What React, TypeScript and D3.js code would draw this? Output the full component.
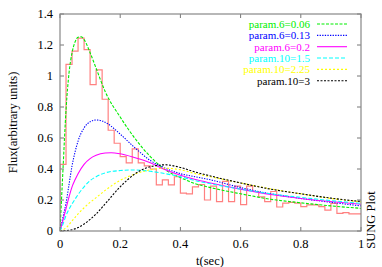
import React from "react";
import * as d3 from "d3";

const W = 382, H = 267;
const M = { left: 60, right: 361, top: 14, bottom: 231 };

const binWidth = 0.02;
const histValues = [
  0.43, 1.075, 1.16, 1.245, 1.17, 0.945, 1.04, 0.85, 0.65, 0.566,
  0.48, 0.44, 0.53, 0.44, 0.42, 0.4, 0.297, 0.33, 0.297, 0.35,
  0.245, 0.24, 0.285, 0.3, 0.2, 0.29, 0.19, 0.32, 0.19, 0.29,
  0.17, 0.29, 0.255, 0.22, 0.19, 0.255, 0.155, 0.18, 0.185, 0.18,
  0.157, 0.168, 0.168, 0.157, 0.135, 0.178, 0.114, 0.118, 0.11, 0.11,
];

const tGreen = [0, 0.01, 0.02, 0.03, 0.04, 0.05, 0.06, 0.07, 0.08, 0.1, 0.12, 0.15, 0.2, 0.25, 0.3, 0.35, 0.4, 0.45, 0.5, 0.6, 0.7, 0.8, 0.9, 1.0];
const vGreen = [0, 0.4, 0.78, 1.02, 1.15, 1.22, 1.25, 1.253, 1.235, 1.15, 1.05, 0.9, 0.735, 0.595, 0.48, 0.395, 0.345, 0.305, 0.28, 0.24, 0.205, 0.182, 0.162, 0.146];

const tBlue = [0, 0.01, 0.02, 0.03, 0.04, 0.05, 0.06, 0.08, 0.1, 0.12, 0.14, 0.16, 0.2, 0.25, 0.3, 0.35, 0.4, 0.45, 0.5, 0.6, 0.7, 0.8, 0.9, 1.0];
const vBlue = [0, 0.09, 0.18, 0.3, 0.42, 0.51, 0.58, 0.665, 0.705, 0.716, 0.71, 0.69, 0.625, 0.535, 0.455, 0.405, 0.37, 0.35, 0.33, 0.28, 0.24, 0.21, 0.185, 0.162];

const tMagenta = [0, 0.01, 0.02, 0.03, 0.04, 0.05, 0.06, 0.08, 0.1, 0.12, 0.15, 0.17, 0.2, 0.25, 0.3, 0.35, 0.4, 0.45, 0.5, 0.6, 0.7, 0.8, 0.9, 1.0];
const vMagenta = [0, 0.07, 0.145, 0.22, 0.285, 0.33, 0.37, 0.43, 0.467, 0.488, 0.503, 0.505, 0.498, 0.472, 0.44, 0.395, 0.36, 0.332, 0.31, 0.27, 0.235, 0.21, 0.19, 0.173];

const tCyan = [0, 0.01, 0.02, 0.03, 0.04, 0.05, 0.06, 0.08, 0.1, 0.12, 0.15, 0.2, 0.25, 0.3, 0.35, 0.4, 0.45, 0.5, 0.6, 0.7, 0.8, 0.9, 1.0];
const vCyan = [0, 0.045, 0.1, 0.14, 0.175, 0.205, 0.235, 0.285, 0.325, 0.35, 0.375, 0.39, 0.394, 0.385, 0.37, 0.35, 0.325, 0.305, 0.27, 0.24, 0.217, 0.196, 0.178];

const tYellow = [0, 0.02, 0.04, 0.06, 0.08, 0.1, 0.12, 0.15, 0.2, 0.25, 0.3, 0.35, 0.4, 0.45, 0.5, 0.6, 0.7, 0.8, 0.9, 1.0];
const vYellow = [0, 0.02, 0.065, 0.11, 0.15, 0.185, 0.215, 0.262, 0.327, 0.368, 0.395, 0.405, 0.395, 0.37, 0.35, 0.31, 0.272, 0.24, 0.21, 0.188];

const tBlack = [0, 0.04, 0.06, 0.08, 0.1, 0.12, 0.15, 0.2, 0.25, 0.3, 0.35, 0.4, 0.45, 0.5, 0.6, 0.7, 0.8, 0.9, 1.0];
const vBlack = [0, 0.008, 0.022, 0.045, 0.075, 0.11, 0.175, 0.285, 0.37, 0.415, 0.427, 0.41, 0.38, 0.355, 0.31, 0.27, 0.24, 0.212, 0.19];

const seriesNames = ["param.6=0.06", "param.6=0.13", "param.6=0.2", "param.10=1.5", "param.10=2.25", "param.10=3"];
const seriesColors = ["#00ee00", "#0000ff", "#ff00ff", "#00ffff", "#ffff00", "#000000"];
const seriesDash = ["3,1.5", "1.3,1.3", "none", "4,2", "2,2", "2,1.5"];
const seriesT = [tGreen, tBlue, tMagenta, tCyan, tYellow, tBlack];
const seriesV = [vGreen, vBlue, vMagenta, vCyan, vYellow, vBlack];

const xTicks = [0, 0.2, 0.4, 0.6, 0.8, 1];
const xTickLabels = ["0", "0.2", "0.4", "0.6", "0.8", "1"];
const yTicks = [0, 0.2, 0.4, 0.6, 0.8, 1, 1.2, 1.4];
const yTickLabels = ["0", "0.2", "0.4", "0.6", "0.8", "1", "1.2", "1.4"];

export default function App() {
  const x = d3.scaleLinear().domain([0, 1]).range([M.left, M.right]);
  const y = d3.scaleLinear().domain([0, 1.4]).range([M.bottom, M.top]);
  const font = "'Liberation Serif', 'Times New Roman', 'DejaVu Serif', serif";

  const histPts: [number, number][] = [[0, 0]];
  histValues.forEach((v, i) => histPts.push([i * binWidth, v]));
  histPts.push([1, histValues[histValues.length - 1]]);
  const stepLine = d3.line<[number, number]>().x(d => x(d[0])).y(d => y(d[1])).curve(d3.curveStepAfter);

  const curve = d3.line<[number, number]>().x(d => x(d[0])).y(d => y(d[1])).curve(d3.curveMonotoneX);

  const tickLen = 4;
  const legendX = 310;
  const legendY0 = 24;
  const legendDy = 11.35;

  return (
    <svg width={W} height={H} style={{ position: "absolute", left: 0, top: 0, background: "#fff" }} fontFamily={font}>
      <defs>
        <clipPath id="plot">
          <rect x={M.left} y={M.top} width={M.right - M.left} height={M.bottom - M.top} />
        </clipPath>
      </defs>
      <rect x={0} y={0} width={W} height={H} fill="#fff" />
      {yTicks.map((t, i) => (
        <g key={"y" + i}>
          <line x1={M.left} x2={M.left + tickLen} y1={y(t)} y2={y(t)} stroke="#777" strokeWidth={1} />
          <line x1={M.right} x2={M.right - tickLen} y1={y(t)} y2={y(t)} stroke="#777" strokeWidth={1} />
          <text x={53} y={y(t)} dy="0.35em" textAnchor="end" fontSize={12.5} fill="#000">{yTickLabels[i]}</text>
        </g>
      ))}
      {xTicks.map((t, i) => (
        <g key={"x" + i}>
          <line x1={x(t)} x2={x(t)} y1={M.bottom} y2={M.bottom - tickLen} stroke="#777" strokeWidth={1} />
          <line x1={x(t)} x2={x(t)} y1={M.top} y2={M.top + tickLen} stroke="#777" strokeWidth={1} />
          <text x={x(t)} y={243.5} dy="0.35em" textAnchor="middle" fontSize={12.5} fill="#000">{xTickLabels[i]}</text>
        </g>
      ))}
      <g clipPath="url(#plot)">
        <path d={stepLine(histPts) || ""} fill="none" stroke="#ff8080" strokeWidth={1.2} />
        {seriesT.map((ts, si) => {
          const pts = ts.map((t, j) => [t, seriesV[si][j]] as [number, number]);
          return (
            <path key={si} d={curve(pts) || ""} fill="none" stroke={seriesColors[si]}
              strokeWidth={1.1} strokeDasharray={seriesDash[si]} />
          );
        })}
      </g>
      <rect x={M.left} y={M.top} width={M.right - M.left} height={M.bottom - M.top} fill="none" stroke="#888" strokeWidth={1.2} />
      {seriesNames.map((n, i) => (
        <g key={"l" + i}>
          <text x={legendX} y={legendY0 + i * legendDy} dy="0.35em" textAnchor="end" fontSize={11} fill={seriesColors[i]}>{n}</text>
          <line x1={317} x2={347} y1={legendY0 + i * legendDy} y2={legendY0 + i * legendDy}
            stroke={seriesColors[i]} strokeWidth={1.1} strokeDasharray={seriesDash[i]} />
        </g>
      ))}
      <text x={210} y={261} dy="0.35em" textAnchor="middle" fontSize={12.5}>t(sec)</text>
      <text transform={`translate(12.5,122.5) rotate(-90)`} dy="0.35em" textAnchor="middle" fontSize={12.5}>Flux(arbitrary units)</text>
      <text transform={`translate(371,220) rotate(-90)`} dy="0.35em" textAnchor="middle" fontSize={12.5}>SUNG Plot</text>
    </svg>
  );
}
